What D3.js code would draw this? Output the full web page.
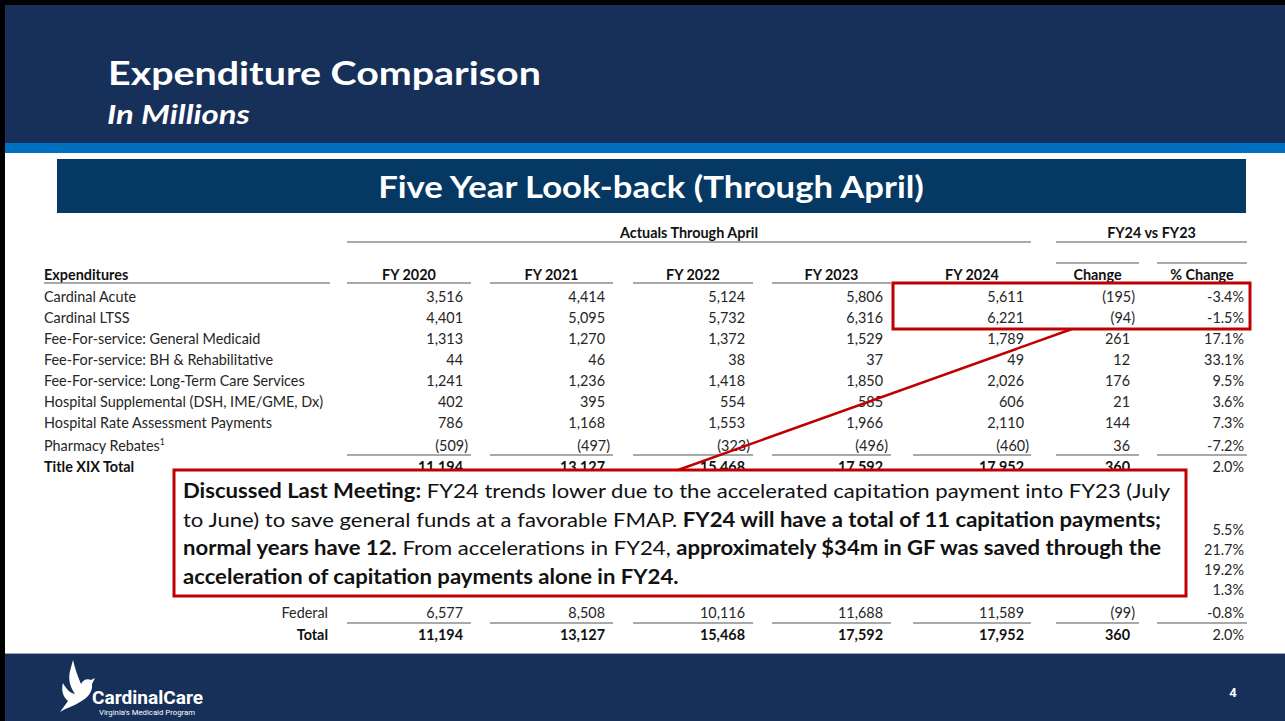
<!DOCTYPE html>
<html>
<head>
<meta charset="utf-8">
<script src="https://cdn.jsdelivr.net/npm/d3@7"></script>
<style>
  html, body { margin: 0; padding: 0; background: #fff; }
  svg { display: block; }
  text { font-family: Lato, "Open Sans", sans-serif; }
  text.roboto { font-family: Roboto, "Noto Sans", sans-serif; }
</style>
</head>
<body>
<svg id="chart" width="1285" height="721"></svg>
<script>
// ---------------- DATA ----------------
const slideTitle = "Expenditure Comparison";
const slideSubtitle = "In Millions";
const bannerTitle = "Five Year Look-back (Through April)";
const groupHeaders = ["Actuals Through April", "FY24 vs FY23"];
const columns = ["FY 2020", "FY 2021", "FY 2022", "FY 2023", "FY 2024", "Change", "% Change"];
const rowLabels = [
  "Cardinal Acute",
  "Cardinal LTSS",
  "Fee-For-service: General Medicaid",
  "Fee-For-service: BH & Rehabilitative",
  "Fee-For-service: Long-Term Care Services",
  "Hospital Supplemental (DSH, IME/GME, Dx)",
  "Hospital Rate Assessment Payments",
  "Pharmacy Rebates",
  "Title XIX Total"
];
const fy2020 = [3516, 4401, 1313, 44, 1241, 402, 786, -509, 11194];
const fy2021 = [4414, 5095, 1270, 46, 1236, 395, 1168, -497, 13127];
const fy2022 = [5124, 5732, 1372, 38, 1418, 554, 1553, -323, 15468];
const fy2023 = [5806, 6316, 1529, 37, 1850, 585, 1966, -496, 17592];
const fy2024 = [5611, 6221, 1789, 49, 2026, 606, 2110, -460, 17952];
const change = [-195, -94, 261, 12, 176, 21, 144, 36, 360];
const pctChange = ["-3.4%", "-1.5%", "17.1%", "33.1%", "9.5%", "3.6%", "7.3%", "-7.2%", "2.0%"];
// partially hidden funding rows (only % change visible)
const hiddenPct = ["5.5%", "21.7%", "19.2%", "1.3%"];
const fundLabels = ["Federal", "Total"];
const fund2020 = [6577, 11194];
const fund2021 = [8508, 13127];
const fund2022 = [10116, 15468];
const fund2023 = [11688, 17592];
const fund2024 = [11589, 17952];
const fundChange = [-99, 360];
const fundPct = ["-0.8%", "2.0%"];
const calloutLines = [
  [["Discussed Last Meeting:", true], [" FY24 trends lower due to the accelerated capitation payment into FY23 (July", false]],
  [["to June) to save general funds at a favorable FMAP. ", false], ["FY24 will have a total of 11 capitation payments;", true]],
  [["normal years have 12.", true], [" From accelerations in FY24, ", false], ["approximately $34m in GF was saved through the", true]],
  [["acceleration of capitation payments alone in FY24.", true]]
];
const pageNumber = "4";

// ---------------- SETUP ----------------
const svg = d3.select("#chart");
const NAVY = "#16305a", BANNER = "#053862", STRIPE = "#0070c0", RED = "#c00000";
const TXT = "#262626", RULE = "#8c8c8c";

// background / frame
svg.append("rect").attr("x", 0).attr("y", 0).attr("width", 1285).attr("height", 721).attr("fill", "#fff");
svg.append("rect").attr("x", 0).attr("y", 0).attr("width", 1285).attr("height", 143).attr("fill", NAVY);
svg.append("rect").attr("x", 0).attr("y", 143).attr("width", 1285).attr("height", 10).attr("fill", STRIPE);
svg.append("rect").attr("x", 0).attr("y", 654).attr("width", 1285).attr("height", 67).attr("fill", NAVY);
svg.append("line").attr("x1", 0).attr("x2", 1285).attr("y1", 653.5).attr("y2", 653.5).attr("stroke", "#9aa3b0").attr("stroke-width", 1);
svg.append("rect").attr("x", 0).attr("y", 0).attr("width", 1285).attr("height", 5).attr("fill", "#000");
svg.append("rect").attr("x", 0).attr("y", 0).attr("width", 5).attr("height", 721).attr("fill", "#000");

// helper: text compressed horizontally to a target width or scale
function measure(sel) { return sel.node().getComputedTextLength(); }
function fitText(g, str, x, y, opts) {
  const t = g.append("text").text(str)
    .attr("font-size", opts.size).attr("font-weight", opts.weight || "normal")
    .attr("font-style", opts.italic ? "italic" : "normal")
    .attr("fill", opts.fill || TXT)
    .attr("text-anchor", opts.anchor || "start");
  let k = opts.k || 1;
  if (opts.width) k = opts.width / measure(t);
  t.attr("transform", `translate(${x},${y}) scale(${k},1)`);
  return t;
}

// ---------------- HEADER ----------------
fitText(svg, slideTitle, 108, 85, { size: 32, weight: "bold", fill: "#fff", width: 433 });
fitText(svg, slideSubtitle, 107, 124, { size: 26, weight: "bold", italic: true, fill: "#fff", width: 143 });

svg.append("rect").attr("x", 57).attr("y", 159).attr("width", 1189).attr("height", 54).attr("fill", BANNER);
fitText(svg, bannerTitle, 651, 198, { size: 31, weight: "bold", fill: "#fff", anchor: "middle", width: 546 });

// ---------------- TABLE ----------------
const table = svg.append("g");
const FS = 15, BASE = 5.5; // font size; baseline offset from visual center
// global compression factor for table font (Calibri-like widths)
const probe = table.append("text").attr("font-size", FS).text(rowLabels[4]);
const K = 261 / measure(probe);
probe.remove();

const xRight = d3.scaleOrdinal().domain(columns).range([463, 605, 745, 883, 1024, 1130, 1244]);
const ulLeft = d3.scaleOrdinal().domain(columns).range([347, 490, 633, 772, 913, 1056, 1157]);
const ulRight = d3.scaleOrdinal().domain(columns).range([471, 613, 753, 891, 1031, 1139, 1247]);
const yRow = d3.scalePoint().domain(rowLabels).range([296, 464]);
const rowY = (label, i) => yRow(label) + (i >= 7 ? 2 : 0);
const fmt = d3.format(",");
const numText = v => v < 0 ? `(${fmt(-v)})` : fmt(v);
const PAREN = 5;

function rule(x1, x2, y, w) {
  table.append("line").attr("x1", x1).attr("x2", x2).attr("y1", y).attr("y2", y)
    .attr("stroke", RULE).attr("stroke-width", w || 1.3);
}

// group headers
const yGroup = 232;
fitText(table, groupHeaders[0], (ulLeft("FY 2020") + ulRight("FY 2024")) / 2, yGroup + BASE, { size: FS, weight: "bold", anchor: "middle", k: K, fill: "#111" });
fitText(table, groupHeaders[1], (ulLeft("Change") + ulRight("% Change")) / 2, yGroup + BASE, { size: FS, weight: "bold", anchor: "middle", k: K, fill: "#111" });
rule(ulLeft("FY 2020"), ulRight("FY 2024"), 242);
rule(ulLeft("Change"), ulRight("% Change"), 242);
rule(ulLeft("Change"), ulRight("Change"), 263);
rule(ulLeft("% Change"), ulRight("% Change"), 263);

// column headers
const yHead = 274;
fitText(table, "Expenditures", 44, yHead + BASE, { size: FS, weight: "bold", k: K, fill: "#111" });
rule(44, 330, 283);
columns.forEach(c => {
  fitText(table, c, (ulLeft(c) + ulRight(c)) / 2, yHead + BASE, { size: FS, weight: "bold", anchor: "middle", k: K, fill: "#111" });
  rule(ulLeft(c), ulRight(c), 283);
});

// body rows
const series = [fy2020, fy2021, fy2022, fy2023, fy2024, change];
rowLabels.forEach((lab, i) => {
  const y = rowY(lab, i) + BASE;
  const bold = i === rowLabels.length - 1;
  const t = fitText(table, lab, 44, y, { size: FS, weight: bold ? "bold" : "normal", k: K, fill: bold ? "#111" : TXT });
  if (lab === "Pharmacy Rebates") {
    t.append("tspan").text("1").attr("font-size", 9).attr("dy", -6);
  }
  series.forEach((arr, j) => {
    const c = columns[j];
    const v = arr[i];
    fitText(table, numText(v), xRight(c) + (v < 0 ? PAREN : 0), y,
      { size: FS, weight: bold && j < 6 ? "bold" : "normal", anchor: "end", k: K, fill: bold ? "#111" : TXT });
  });
  fitText(table, pctChange[i], xRight("% Change"), y, { size: FS, anchor: "end", k: K });
});
// lines above Title XIX total
columns.forEach(c => rule(ulLeft(c), ulRight(c), 455));

// hidden funding rows (only % visible beside the callout)
const yHidden = d3.scalePoint().domain(d3.range(hiddenPct.length)).range([529, 589]);
hiddenPct.forEach((p, i) => fitText(table, p, xRight("% Change"), yHidden(i) + BASE, { size: FS, anchor: "end", k: K }));

// federal / total
const yFund = d3.scalePoint().domain(fundLabels).range([612, 634]);
const fundSeries = [fund2020, fund2021, fund2022, fund2023, fund2024, fundChange];
fundLabels.forEach((lab, i) => {
  const y = yFund(lab) + BASE;
  const bold = lab === "Total";
  fitText(table, lab, 328, y, { size: FS, weight: bold ? "bold" : "normal", anchor: "end", k: K, fill: bold ? "#111" : TXT });
  fundSeries.forEach((arr, j) => {
    const c = columns[j], v = arr[i];
    fitText(table, numText(v), xRight(c) + (v < 0 ? PAREN : 0), y,
      { size: FS, weight: bold ? "bold" : "normal", anchor: "end", k: K, fill: bold ? "#111" : TXT });
  });
  fitText(table, fundPct[i], xRight("% Change"), y, { size: FS, anchor: "end", k: K });
});
columns.forEach(c => rule(ulLeft(c), ulRight(c), 623));

// ---------------- HIGHLIGHT + CALLOUT ----------------
svg.append("line").attr("x1", 678).attr("y1", 470).attr("x2", 1072).attr("y2", 329)
  .attr("stroke", RED).attr("stroke-width", 2.5);
svg.append("rect").attr("x", 893).attr("y", 283).attr("width", 357).attr("height", 46)
  .attr("fill", "none").attr("stroke", RED).attr("stroke-width", 3);
svg.append("rect").attr("x", 174).attr("y", 470).attr("width", 1012).attr("height", 126)
  .attr("fill", "#fff").attr("stroke", RED).attr("stroke-width", 3);

const cg = svg.append("g");
const lineY = d3.scalePoint().domain(d3.range(calloutLines.length)).range([498, 584]);
const lines = calloutLines.map((parts, i) => {
  const t = cg.append("text").attr("font-size", 20).attr("fill", "#111").attr("xml:space", "preserve");
  parts.forEach(([s, b]) => t.append("tspan").text(s).attr("font-weight", b ? "bold" : "normal").style("white-space", "pre"));
  return t;
});
const KC = (1171 - 183) / lines[0].node().getComputedTextLength();
lines.forEach((t, i) => t.attr("transform", `translate(183,${lineY(i)}) scale(${KC},1)`));

// ---------------- FOOTER ----------------
svg.append("path")
  .attr("d", "M60,712 L68,701 C63,697 61,690 63,683 C66,689 70,693 75,694 C70,687 68,679 70,671 L73,660 C75,669 78,677 81,684 C83,680 87,678 91,680 L95,678 L92,684 C93,691 88,698 80,702 C74,706 66,708 60,712 Z")
  .attr("fill", "#fff");
svg.append("text").attr("class", "roboto").text("CardinalCare").attr("x", 92).attr("y", 704)
  .attr("font-weight", "bold").attr("font-size", 19)
  .attr("fill", "#fff").attr("textLength", 111).attr("lengthAdjust", "spacingAndGlyphs");
svg.append("text").attr("class", "roboto").text("Virginia's Medicaid Program").attr("x", 99).attr("y", 715)
  .attr("font-size", 7.5)
  .attr("fill", "#fff").attr("textLength", 96).attr("lengthAdjust", "spacingAndGlyphs");
svg.append("text").attr("class", "roboto").text(pageNumber).attr("x", 1233).attr("y", 697).attr("text-anchor", "middle")
  .attr("font-weight", "bold").attr("font-size", 13).attr("fill", "#fff");
</script>
</body>
</html>
